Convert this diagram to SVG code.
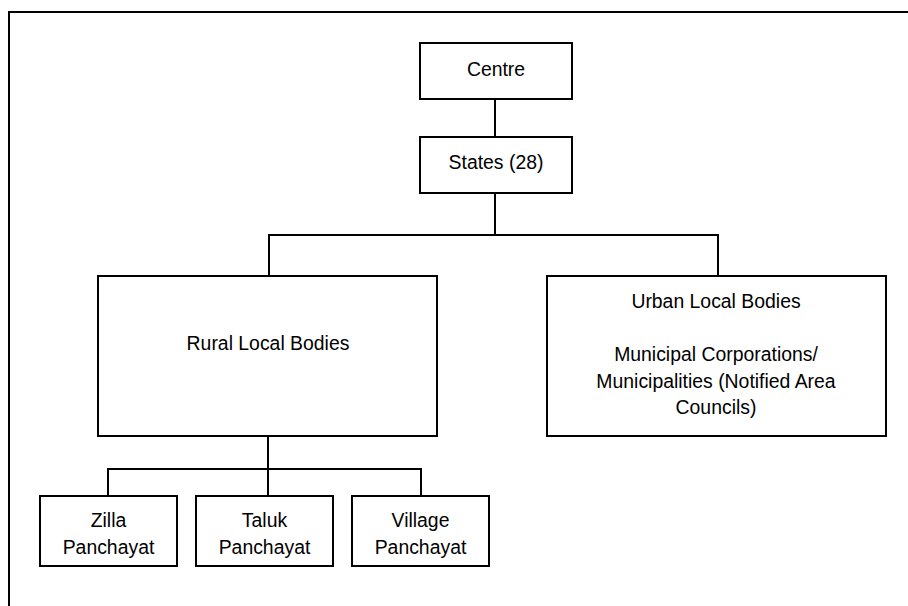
<svg xmlns="http://www.w3.org/2000/svg" width="908" height="606" viewBox="0 0 908 606">
<style>
.box{fill:#fff;stroke:#000;stroke-width:2}
.ln{fill:none;stroke:#000;stroke-width:2}
text{font-family:"Liberation Sans",Arial,sans-serif;font-size:19.4px;fill:#000;text-anchor:middle}
</style>
<rect width="908" height="606" fill="#fff"/>
<path class="ln" d="M9,606 V12 H908"/>
<g id="connectors">
<path class="ln" d="M495,99 V137"/>
<path class="ln" d="M495,193 V235"/>
<path class="ln" d="M269,276 V235 H718 V276"/>
<path class="ln" d="M268,436 V496"/>
<path class="ln" d="M108,496 V469 H421 V496"/>
</g>
<g id="centre"><rect class="box" x="420" y="43" width="152" height="56"/><text x="496" y="75.5">Centre</text></g>
<g id="states"><rect class="box" x="420" y="137" width="152" height="56"/><text x="496" y="168.5">States (28)</text></g>
<g id="rural"><rect class="box" x="98" y="276" width="339" height="160"/><text x="268" y="349.5">Rural Local Bodies</text></g>
<g id="urban"><rect class="box" x="547" y="276" width="339" height="160"/>
<text x="716" y="308">Urban Local Bodies</text>
<text x="716" y="360.5">Municipal Corporations/</text>
<text x="716" y="387.5">Municipalities (Notified Area</text>
<text x="716" y="413.5">Councils)</text></g>
<g id="zilla"><rect class="box" x="40" y="496" width="137" height="70"/><text x="108.5" y="526.5">Zilla</text><text x="108.5" y="553.5">Panchayat</text></g>
<g id="taluk"><rect class="box" x="196" y="496" width="137" height="70"/><text x="264.5" y="526.5">Taluk</text><text x="264.5" y="553.5">Panchayat</text></g>
<g id="village"><rect class="box" x="352" y="496" width="137" height="70"/><text x="420.5" y="526.5">Village</text><text x="420.5" y="553.5">Panchayat</text></g>
</svg>
